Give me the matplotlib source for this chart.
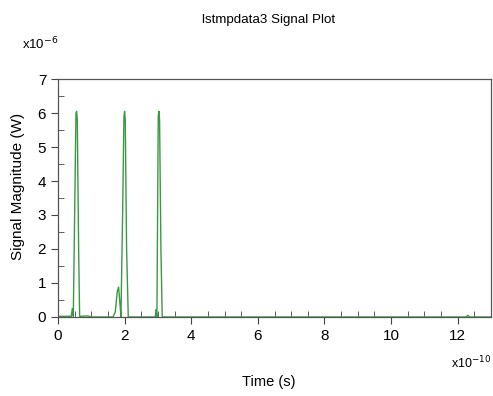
import matplotlib.pyplot as plt
from matplotlib.ticker import MultipleLocator

plt.rcParams['font.family'] = ['Liberation Sans', 'DejaVu Sans']

# Time samples (x1e-10 s) and signal magnitude (x1e-6 W)
time = [0.00, 0.40, 0.43, 0.46, 0.50, 0.54, 0.56, 0.58, 0.62, 0.65, 0.90, 1.00,
        1.65, 1.72, 1.78, 1.82, 1.86, 1.89, 1.94, 1.98, 2.00, 2.02, 2.06, 2.11,
        2.88, 2.92, 2.94, 2.97, 3.01, 3.03, 3.05, 3.09, 3.13,
        12.25, 12.30, 12.35, 13.0]
signal = [0.02, 0.02, 0.25, 0.02, 3.0, 6.0, 6.05, 5.8, 2.0, 0.02, 0.03, 0.0,
          0.0, 0.15, 0.75, 0.88, 0.40, 0.0, 3.0, 5.9, 6.05, 5.8, 2.0, 0.0,
          0.0, 0.0, 0.22, 0.0, 5.9, 6.05, 5.8, 2.0, 0.0,
          0.0, 0.05, 0.0, 0.0]

fig = plt.figure(figsize=(4.93, 3.96), dpi=100)
ax = fig.add_axes([0.1176, 0.1995, 0.8784, 0.601])
ax.plot(time, signal, color='#3a9a42', linewidth=1.0)

ax.set_xlim(0, 13)
ax.set_ylim(0, 7)
ax.xaxis.set_major_locator(MultipleLocator(2))
ax.xaxis.set_minor_locator(MultipleLocator(0.5))
ax.yaxis.set_major_locator(MultipleLocator(1))
ax.yaxis.set_minor_locator(MultipleLocator(0.5))
ax.tick_params(which='major', direction='out', length=5, labelsize=11, color='#444444')
ax.tick_params(which='minor', direction='in', length=4, color='#444444')
for s in ax.spines.values():
    s.set_color('#555555')
    s.set_linewidth(0.9)

fig.text(0.545, 0.95, 'lstmpdata3 Signal Plot', ha='center', va='center', fontsize=9.6)
fig.text(0.045, 0.875, r'x10$^{-6}$', fontsize=9.5)
fig.text(0.915, 0.07, r'x10$^{-10}$', ha='left', fontsize=9)
fig.text(0.545, 0.025, 'Time (s)', ha='center', fontsize=10.5)
fig.text(0.037, 0.53, 'Signal Magnitude (W)', rotation=90, ha='center', va='center', fontsize=11)

fig.savefig('out.png', dpi=100)
